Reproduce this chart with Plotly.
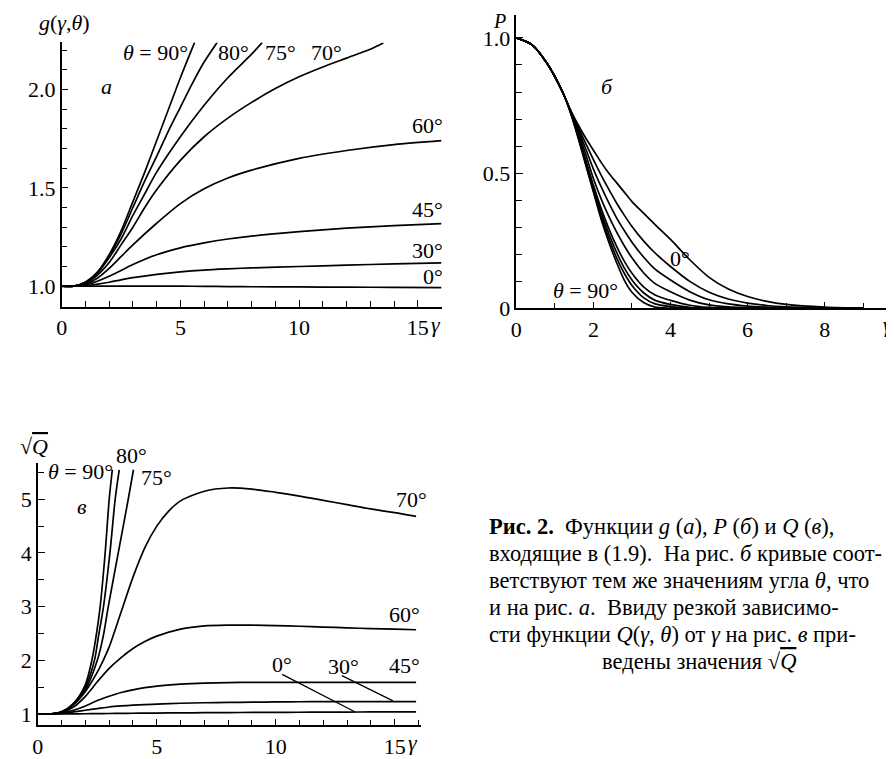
import plotly.graph_objects as go

W, H = 894, 759
FONT = "Liberation Serif"

# ---------------- Panel а : g(γ, θ) ----------------
g_x_90 = [0, 0.5, 1, 1.5, 2, 2.5, 3, 3.5, 4, 4.5, 5, 5.6]
g_y_90 = [1, 1.0, 1.02, 1.07, 1.16, 1.28, 1.43, 1.58, 1.74, 1.9, 2.06, 2.24]
g_x_80 = [0, 0.5, 1, 1.5, 2, 2.5, 3, 3.5, 4, 4.5, 5, 5.5, 6, 6.55]
g_y_80 = [1, 1.0, 1.02, 1.07, 1.155, 1.265, 1.4, 1.535, 1.66, 1.79, 1.91, 2.03, 2.14, 2.24]
g_x_75 = [0, 0.5, 1, 1.5, 2, 2.5, 3, 3.5, 4, 5, 6, 7, 8, 8.45]
g_y_75 = [1, 1.0, 1.02, 1.065, 1.145, 1.24, 1.36, 1.47, 1.58, 1.76, 1.92, 2.06, 2.18, 2.24]
g_x_70 = [0, 0.5, 1, 1.5, 2, 2.5, 3, 3.5, 4, 5, 6, 7, 8, 9, 10, 11, 12, 13, 13.55]
g_y_70 = [1, 1.0, 1.015, 1.055, 1.12, 1.21, 1.3, 1.4, 1.49, 1.64, 1.76, 1.855, 1.935, 2.005,
          2.065, 2.115, 2.16, 2.205, 2.237]
g_x_lo = [0, 0.5, 1, 1.5, 2, 2.5, 3, 4, 5, 6, 7, 8, 10, 12, 14, 16]
g_y_60 = [1, 1.0, 1.01, 1.04, 1.09, 1.15, 1.21, 1.32, 1.42, 1.495, 1.55, 1.59, 1.65, 1.69, 1.72, 1.74]
g_y_45 = [1, 1.0, 1.005, 1.025, 1.05, 1.08, 1.11, 1.16, 1.195, 1.22, 1.24, 1.255, 1.277, 1.295, 1.308, 1.318]
g_y_30 = [1, 1.0, 1.002, 1.01, 1.02, 1.032, 1.043, 1.06, 1.073, 1.082, 1.088, 1.093, 1.10, 1.107, 1.113, 1.118]
g_y_0 = [1.0, 1.0, 1.0, 1.0, 1.0, 1.0, 1.0, 1.0, 1.0, 0.999, 0.998, 0.997, 0.996, 0.995, 0.994, 0.993]
a_xtick_vals = [0, 5, 10, 15]
a_xtick_text = ["0", "5", "10", "15"]
a_ytick_vals = [1.0, 1.5, 2.0]
a_ytick_text = ["1.0", "1.5", "2.0"]

# ---------------- Panel б : P(γ, θ) ----------------
p_x = [0, 0.4, 0.8, 1.2, 1.4, 1.6, 1.8, 2.0, 2.2, 2.4, 2.6, 2.8, 3.0, 3.3, 3.6, 4.0, 4.5,
       5.0, 5.5, 6.0, 6.5, 7.0, 8.0, 9.0]
p_y_0 = [1, .975, .905, .80, .735, .68, .63, .585, .54, .50, .465, .43, .395, .352, .31, .255, .18,
         .115, .072, .044, .026, .015, .005, .001]
p_y_30 = [1, .975, .905, .80, .734, .672, .61, .55, .493, .44, .39, .345, .303, .25, .205, .155,
          .10, .06, .035, .02, .011, .006, .002, 0]
p_y_45 = [1, .975, .905, .80, .733, .665, .59, .515, .45, .39, .335, .288, .245, .19, .145, .105,
          .062, .032, .017, .009, .005, .003, .001, 0]
p_y_60 = [1, .975, .905, .80, .731, .655, .57, .48, .405, .34, .283, .232, .187, .132, .092, .062,
          .031, .013, .006, .003, .001, 0, 0, 0]
p_y_70 = [1, .975, .905, .80, .729, .645, .55, .455, .37, .295, .23, .175, .13, .08, .05, .03,
          .012, .004, .001, 0, 0, 0, 0, 0]
p_y_75 = [1, .975, .905, .80, .728, .64, .543, .445, .355, .277, .208, .15, .105, .058, .03, .015,
          .004, .001, 0, 0, 0, 0, 0, 0]
p_y_80 = [1, .975, .905, .80, .727, .636, .537, .435, .342, .26, .188, .13, .085, .04, .017, .007,
          .001, 0, 0, 0, 0, 0, 0, 0]
p_y_90 = [1, .975, .905, .80, .726, .632, .53, .43, .33, .245, .17, .105, .06, .022, .005, .001,
          0, 0, 0, 0, 0, 0, 0, 0]
b_xtick_vals = [0, 2, 4, 6, 8]
b_xtick_text = ["0", "2", "4", "6", "8"]
b_ytick_vals = [0, 0.5, 1.0]
b_ytick_text = ["0", "0.5", "1.0"]

# ---------------- Panel в : sqrt(Q) ----------------
q_x_90 = [0, 0.5, 1, 1.5, 2, 2.27, 2.45, 2.62, 2.83, 3.0, 3.13]
q_y_90 = [1, 1.0, 1.04, 1.2, 1.55, 2.0, 2.45, 3.0, 4.0, 5.0, 5.55]
q_x_80 = [0, 0.5, 1, 1.5, 2, 2.38, 2.55, 2.76, 3.03, 3.25, 3.42]
q_y_80 = [1, 1.0, 1.04, 1.19, 1.5, 2.0, 2.45, 3.0, 4.0, 5.0, 5.55]
q_x_75 = [0, 0.5, 1, 1.5, 2, 2.5, 2.75, 2.96, 3.38, 3.8, 4.02]
q_y_75 = [1, 1.0, 1.04, 1.18, 1.45, 2.0, 2.45, 3.0, 4.0, 5.0, 5.55]
q_x_70 = [0, 0.5, 1, 1.5, 2, 2.5, 2.75, 3, 3.5, 4, 4.5, 5, 5.5, 6, 7, 8, 9, 10, 11, 12, 13, 14, 15, 15.9]
q_y_70 = [1, 1.0, 1.04, 1.17, 1.42, 1.78, 2.0, 2.25, 2.9, 3.55, 4.1, 4.5, 4.78, 4.97, 5.15, 5.21,
          5.19, 5.13, 5.06, 4.98, 4.9, 4.82, 4.75, 4.68]
q_x_lo = [0, 0.5, 1, 1.5, 2, 2.5, 3, 3.5, 4, 4.5, 5, 6, 7, 8, 9, 10, 11, 12, 13, 14, 15, 15.9]
q_y_60 = [1, 1.0, 1.03, 1.13, 1.33, 1.6, 1.85, 2.05, 2.22, 2.35, 2.45, 2.58, 2.64, 2.655, 2.655,
          2.645, 2.635, 2.62, 2.605, 2.59, 2.58, 2.57]
q_y_45 = [1, 1.0, 1.02, 1.07, 1.15, 1.25, 1.33, 1.4, 1.45, 1.49, 1.52, 1.555, 1.575, 1.585, 1.59,
          1.59, 1.59, 1.59, 1.59, 1.59, 1.59, 1.59]
q_y_30 = [1, 1.0, 1.01, 1.04, 1.07, 1.1, 1.13, 1.15, 1.165, 1.175, 1.185, 1.2, 1.21, 1.215, 1.22,
          1.225, 1.228, 1.23, 1.23, 1.23, 1.23, 1.23]
q_y_0 = [1, 1.0, 1.0, 1.002, 1.005, 1.007, 1.01, 1.012, 1.014, 1.016, 1.018, 1.021, 1.024, 1.027,
         1.029, 1.031, 1.033, 1.035, 1.036, 1.038, 1.039, 1.04]
c_xtick_vals = [0, 5, 10, 15]
c_xtick_text = ["0", "5", "10", "15"]
c_ytick_vals = [1, 2, 3, 4, 5]
c_ytick_text = ["1", "2", "3", "4", "5"]

# leader lines (data coordinates of panel в)
lead0_x = [10.27, 13.32]
lead0_y = [1.738, 1.042]
lead30_x = [12.78, 14.93]
lead30_y = [1.714, 1.244]

caption_lines = [
    "<b>Рис. 2.</b>  Функции <i>g</i> (<i>а</i>), <i>P</i> (<i>б</i>) и <i>Q</i> (<i>в</i>),",
    "входящие в (1.9).  На рис. <i>б</i> кривые соот-",
    "ветствуют тем же значениям угла <i>θ</i>, что",
    "и на рис. <i>а</i>.  Ввиду резкой зависимо-",
    "сти функции <i>Q</i>(<i>γ</i>, <i>θ</i>) от <i>γ</i> на рис. <i>в</i> при-",
]
caption_last = "ведены значения √<span style='text-decoration:overline'><i>Q</i></span>"

# ---------------- layout helpers ----------------
def fx(p):
    return p / W


def fy(p):
    return 1 - p / H


LW = 1.7
fig = go.Figure()


def add(x, y, xa, ya):
    fig.add_trace(go.Scatter(x=x, y=y, mode="lines", xaxis=xa, yaxis=ya,
                             line=dict(color="black", width=LW, shape="spline", smoothing=0.8),
                             hoverinfo="skip", showlegend=False))


for xs, ys in [(g_x_90, g_y_90), (g_x_80, g_y_80), (g_x_75, g_y_75), (g_x_70, g_y_70),
               (g_x_lo, g_y_60), (g_x_lo, g_y_45), (g_x_lo, g_y_30), (g_x_lo, g_y_0)]:
    add(xs, ys, "x", "y")
for ys in [p_y_0, p_y_30, p_y_45, p_y_60, p_y_70, p_y_75, p_y_80, p_y_90]:
    add(p_x, ys, "x2", "y2")
for xs, ys in [(q_x_90, q_y_90), (q_x_80, q_y_80), (q_x_75, q_y_75), (q_x_70, q_y_70),
               (q_x_lo, q_y_60), (q_x_lo, q_y_45), (q_x_lo, q_y_30), (q_x_lo, q_y_0)]:
    add(xs, ys, "x3", "y3")
for xs, ys in [(lead0_x, lead0_y), (lead30_x, lead30_y)]:
    fig.add_trace(go.Scatter(x=xs, y=ys, mode="lines", xaxis="x3", yaxis="y3",
                             line=dict(color="black", width=1.3), hoverinfo="skip", showlegend=False))

FS = 22
tickfont = dict(family=FONT, size=FS, color="black")


def axis(domain, rng, anchor, tv, tt, mdt, **kw):
    d = dict(domain=domain, range=rng, anchor=anchor, showline=True, linecolor="black",
             linewidth=1.5, ticks="inside", ticklen=7, tickwidth=1.3, tickcolor="black",
             showgrid=False, zeroline=False, tickfont=tickfont, fixedrange=True,
             tickmode="array", tickvals=tv, ticktext=tt,
             minor=dict(tickmode="linear", tick0=0, dtick=mdt, ticks="inside", ticklen=6,
                        tickwidth=1.3, tickcolor="black", showgrid=False))
    d.update(kw)
    return d


layout = dict(
    width=W, height=H, margin=dict(l=0, r=0, t=0, b=0),
    paper_bgcolor="white", plot_bgcolor="white", showlegend=False,
    xaxis=axis([fx(48), fx(430.4)], [0, 16], "y", a_xtick_vals, a_xtick_text, 1),
    yaxis=axis([fy(304), fy(35)], [0.895, 2.24], "x", a_ytick_vals, a_ytick_text, 0.1),
    xaxis2=axis([fx(505.7), fx(888)], [0, 9.85], "y2", b_xtick_vals, b_xtick_text, 1),
    yaxis2=axis([fy(305.7), fy(7)], [0, 1.085], "x2", b_ytick_vals, b_ytick_text, 0.1),
    xaxis3=axis([fx(24), fx(409.6)], [0, 16.1], "y3", c_xtick_vals, c_xtick_text, 1),
    yaxis3=axis([fy(730), fy(462.7)], [0.786, 5.68], "x3", c_ytick_vals, c_ytick_text, 0.5),
)
fig.update_layout(**layout)

# text labels: (text, x_px, y_px, xanchor, yanchor, size)
labels = [
    ("<i>g</i>(<i>γ</i>,<i>θ</i>)", 51, 15, "center", "middle", FS),
    ("<i>θ</i> = 90°", 142, 45, "center", "middle", FS),
    ("80°", 221, 45, "center", "middle", FS),
    ("75°", 268, 45, "center", "middle", FS),
    ("70°", 315, 45, "center", "middle", FS),
    ("<i>а</i>", 93, 80, "center", "middle", FS),
    ("60°", 416, 120, "center", "middle", FS),
    ("45°", 416, 205, "center", "middle", FS),
    ("30°", 416, 247, "center", "middle", FS),
    ("0°", 422, 273, "center", "middle", FS),
    ("<i>γ</i>", 425, 322, "center", "middle", FS),
    ("<i>P</i>", 489, 0, "center", "top", 20),
    ("<i>б</i>", 597, 80, "center", "middle", FS),
    ("0°", 670, 255, "center", "middle", FS),
    ("<i>θ</i> = 90°", 575, 287, "center", "middle", FS),
    ("<i>γ</i>", 880, 322, "center", "middle", FS),
    ("√<span style='text-decoration:overline'><i>Q</i></span>", 20, 446, "center", "middle", FS),
    ("<i>θ</i> = 90°", 67, 472, "center", "middle", FS),
    ("80°", 118, 455, "center", "middle", FS),
    ("75°", 143, 478, "center", "middle", FS),
    ("<i>в</i>", 68, 507, "center", "middle", FS),
    ("70°", 400, 500, "center", "middle", FS),
    ("60°", 393, 617, "center", "middle", FS),
    ("0°", 270, 668, "center", "middle", FS),
    ("30°", 332, 670, "center", "middle", FS),
    ("45°", 393, 669, "center", "middle", FS),
    ("<i>γ</i>", 402, 747, "center", "middle", FS),
]
anns = []
for t, x, y, xa, ya, s in labels:
    anns.append(dict(text=t, x=fx(x), y=fy(y), xref="paper", yref="paper", showarrow=False,
                     xanchor=xa, yanchor=ya, font=dict(family=FONT, size=s, color="black")))

CS = 22.5
cap_y = [528, 555, 582, 610, 637]
for i, t in enumerate(caption_lines):
    anns.append(dict(text=t, x=fx(476), y=fy(cap_y[i]), xref="paper", yref="paper", showarrow=False,
                     xanchor="left", yanchor="middle", font=dict(family=FONT, size=CS, color="black")))
anns.append(dict(text=caption_last, x=fx(690), y=fy(665), xref="paper", yref="paper", showarrow=False,
                 xanchor="center", yanchor="middle", font=dict(family=FONT, size=CS, color="black")))
fig.update_layout(annotations=anns)

fig.write_html("out.html")
